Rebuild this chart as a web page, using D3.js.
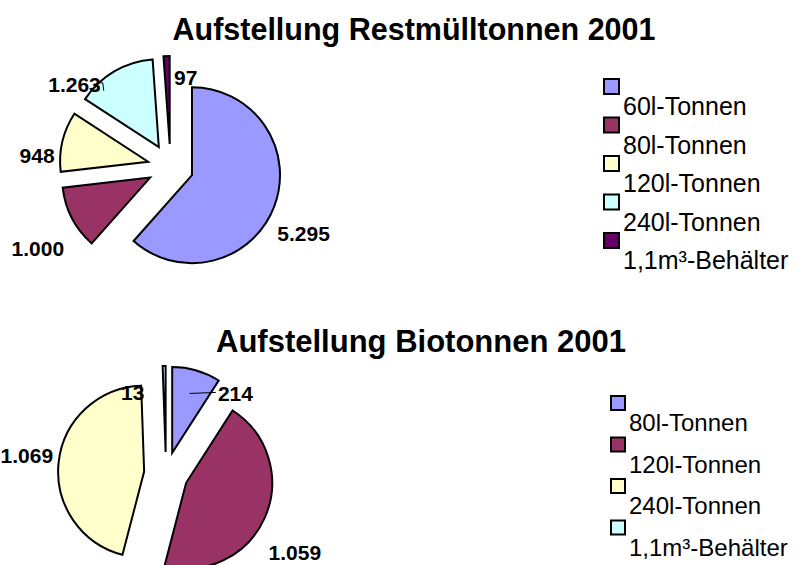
<!DOCTYPE html>
<meta charset="utf-8">
<head>
<title>Aufstellung Tonnen 2001</title>
<script src="https://cdn.jsdelivr.net/npm/d3@7"></script>
<style>
  body { margin: 0; background: #fff; }
  text { font-family: "Liberation Sans", Arial, sans-serif; }
</style>
</head>
<body>
<svg id="chart"></svg>
<script>
// data
var restCategories = ["60l-Tonnen", "80l-Tonnen", "120l-Tonnen", "240l-Tonnen", "1,1m³-Behälter"];
var restValues = [5295, 1000, 948, 1263, 97];
var restColors = ["#9999FF", "#993366", "#FFFFCC", "#CCFFFF", "#660066"];

var bioCategories = ["80l-Tonnen", "120l-Tonnen", "240l-Tonnen", "1,1m³-Behälter"];
var bioValues = [214, 1059, 1069, 13];
var bioColors = ["#9999FF", "#993366", "#FFFFCC", "#CCFFFF"];

var width = 798, height = 565;
var svg = d3.select("#chart").attr("width", width).attr("height", height);

var de = d3.formatLocale({decimal: ",", thousands: ".", grouping: [3], currency: ["", " €"]});
var fmt = de.format(",d");

// draws one exploded pie with labels + legend
function drawPie(opts) {
  var g = svg.append("g").attr("transform", "translate(" + opts.cx + "," + opts.cy + ")");
  var pie = d3.pie().sort(null).value(function(d) { return d; });
  var arc = d3.arc().innerRadius(0).outerRadius(opts.r);
  var arcs = pie(opts.values);

  function dir(a) { return [Math.sin(a), -Math.cos(a)]; }

  g.selectAll("path").data(arcs).enter().append("path")
    .attr("d", arc)
    .attr("transform", function(d) {
      var m = dir((d.startAngle + d.endAngle) / 2);
      return "translate(" + (m[0] * opts.explode) + "," + (m[1] * opts.explode) + ")";
    })
    .attr("fill", function(d, i) { return opts.colors[i]; })
    .attr("stroke", "#000").attr("stroke-width", 2).attr("stroke-linejoin", "miter");

  var R = opts.r + opts.explode + 25;
  arcs.forEach(function(d, i) {
    var mid = (d.startAngle + d.endAngle) / 2, m = dir(mid);
    var x = m[0] * R + opts.nudge[i][0], y = m[1] * R + opts.nudge[i][1];
    var t = g.append("text").attr("x", x).attr("y", y).attr("dy", "0.35em")
      .attr("text-anchor", "middle").attr("font-size", 21).attr("font-weight", "bold")
      .text(fmt(d.data));
    if (opts.leader[i]) {
      var bb = t.node().getBBox();
      var L = opts.leader[i];
      if (L === "in") {
        var px = m[0] * (opts.explode + opts.r * 0.72), py = m[1] * (opts.explode + opts.r * 0.72);
        g.append("line").attr("x1", px).attr("y1", py).attr("x2", bb.x - 2).attr("y2", y - 1)
          .attr("stroke", "#000").attr("stroke-width", 1);
      } else {
        var ex = bb.x + bb.width;
        g.append("polyline").attr("points", [[ex - 4, y - 2], [ex + 2, y - 2], [ex + 3, y + 6]].join(" "))
          .attr("fill", "none").attr("stroke", "#000").attr("stroke-width", 1);
      }
    }
  });

  svg.append("text").attr("x", opts.titleX).attr("y", opts.titleY)
    .attr("text-anchor", "middle").attr("font-size", opts.titleFont).attr("font-weight", "bold")
    .text(opts.title);

  var lg = svg.append("g").attr("transform", "translate(" + opts.legX + "," + opts.legY + ")");
  var item = lg.selectAll("g").data(opts.categories).enter().append("g")
    .attr("transform", function(d, i) { return "translate(0," + (i * opts.legStep) + ")"; });
  item.append("rect").attr("x", 0).attr("y", 0).attr("width", opts.box).attr("height", opts.box)
    .attr("fill", function(d, i) { return opts.colors[i]; })
    .attr("stroke", "#000").attr("stroke-width", 2);
  item.append("text").attr("x", opts.box + 4).attr("y", opts.box + 21)
    .attr("font-size", opts.legFont).text(function(d) { return d; });
}

drawPie({
  title: "Aufstellung Restmülltonnen 2001", titleX: 414, titleY: 40, titleFont: 30.5,
  values: restValues, colors: restColors, categories: restCategories,
  cx: 170.5, cy: 167, r: 88, explode: 23,
  nudge: [[6, 18], [-12, 19], [-1, 20], [-27, 35], [20, 47]],
  leader: [null, null, null, "out", null],
  legX: 604, legY: 79, legStep: 38.5, box: 15, legFont: 25
});

drawPie({
  title: "Aufstellung Biotonnen 2001", titleX: 421, titleY: 352, titleFont: 31,
  values: bioValues, colors: bioColors, categories: bioCategories,
  cx: 166, cy: 474, r: 86, explode: 22,
  nudge: [[32, 47], [7, 25], [-7, -4], [-31, 52]],
  leader: ["in", null, null, null],
  legX: 611, legY: 396, legStep: 41.5, box: 14, legFont: 24
});
</script>
</body>
</html>
